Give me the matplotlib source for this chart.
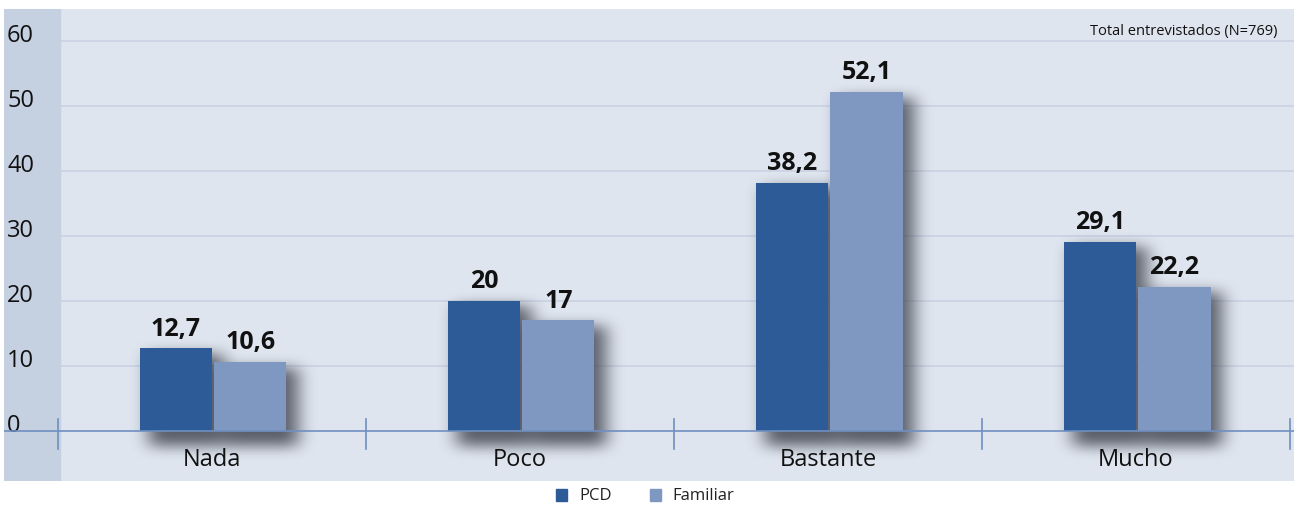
import matplotlib.pyplot as plt
import numpy as np
from matplotlib.patches import Rectangle

# Data
categories = ['Nada', 'Poco', 'Bastante', 'Mucho']
pcd = [12.7, 20, 38.2, 29.1]
familiar = [10.6, 17, 52.1, 22.2]
pcd_labels = ['12,7', '20', '38,2', '29,1']
familiar_labels = ['10,6', '17', '52,1', '22,2']
yticks = [0, 10, 20, 30, 40, 50, 60]

plt.rcParams['font.family'] = ['Open Sans', 'DejaVu Sans']

fig = plt.figure(figsize=(13, 5.06), dpi=100)
AX_W, AX_H = 1290, 472
ax = fig.add_axes([4 / 1300, 24 / 506, AX_W / 1300, AX_H / 506])
ax.set_facecolor('#dfe5ef')

x = np.arange(len(categories))
w = 0.234
x_pcd = x - 0.117
x_fam = x + 0.125
XMIN, XMAX = -0.675, 3.513
YMIN, YMAX = -7.7, 64.9
ax.set_xlim(XMIN, XMAX)
ax.set_ylim(YMIN, YMAX)

# left strip for the y labels
ax.axvspan(XMIN, -0.494, color='#c5d0e1', zorder=0)

# gridlines
for t in yticks[1:]:
    ax.plot([-0.494, XMAX], [t, t], color='#c8d1e2', lw=1.1, zorder=1)

# soft drop shadow: paint bars into a pixel grid, offset and blur
mask = np.zeros((AX_H, AX_W))
def to_px(xd, yd):
    px = (xd - XMIN) / (XMAX - XMIN) * AX_W
    py = (YMAX - yd) / (YMAX - YMIN) * AX_H
    return px, py
for xs, vals in ((x_pcd, pcd), (x_fam, familiar)):
    for xi, v in zip(xs, vals):
        x0, y0 = to_px(xi - w / 2, v)
        x1, y1 = to_px(xi + w / 2, -1.2)
        mask[int(y0) + 6:int(y1) + 8, int(x0) + 10:int(x1) + 12] = 1.0

def blur(a, r, axis):
    k = np.ones(2 * r + 1) / (2 * r + 1)
    return np.apply_along_axis(lambda m: np.convolve(m, k, mode='same'), axis, a)

for _ in range(3):
    mask = blur(mask, 8, 1)
    mask = blur(mask, 6, 0)
shadow = np.zeros((AX_H, AX_W, 4))
shadow[..., :3] = np.array([0.22, 0.24, 0.28])
shadow[..., 3] = mask * 0.8
ax.imshow(shadow, extent=(XMIN, XMAX, YMIN, YMAX), aspect='auto', zorder=2,
          interpolation='bilinear')
ax.set_xlim(XMIN, XMAX)
ax.set_ylim(YMIN, YMAX)

ax.bar(x_pcd, pcd, w, color='#2c5b98', zorder=3)
ax.bar(x_fam, familiar, w, color='#7f98c2', zorder=3)

for xi, v, s in zip(x_pcd, pcd, pcd_labels):
    ax.text(xi, v + 1.2, s, ha='center', va='bottom', fontsize=18,
            fontweight='bold', color='#111111', zorder=4)
for xi, v, s in zip(x_fam, familiar, familiar_labels):
    ax.text(xi, v + 1.2, s, ha='center', va='bottom', fontsize=18,
            fontweight='bold', color='#111111', zorder=4)

# x axis line with separator ticks
ax.axhline(0, color='#6f8fc0', lw=1.2, zorder=4)
for sep in np.arange(-0.5, 4.0, 1.0):
    ax.plot([sep, sep], [1.8, -2.8], color='#6f8fc0', lw=1.2, zorder=4)

for xi, c in zip(x, categories):
    ax.text(xi, -2.5, c, ha='center', va='top', fontsize=17, color='#111111', zorder=4)

# y labels inside strip
for t in yticks:
    ax.text(-0.665, t + 0.9, str(t), ha='left', va='center', fontsize=17, color='#111111')

ax.text(3.458, 61.6, 'Total entrevistados (N=769)', ha='right', va='center',
        fontsize=10.5, color='#111111')

ax.set_xticks([])
ax.set_yticks([])
for s in ax.spines.values():
    s.set_visible(False)

# legend
fig.patches.append(Rectangle((556 / 1300, 4 / 506), 11 / 1300, 12 / 506,
                             transform=fig.transFigure, color='#2c5b98'))
fig.text(579 / 1300, 10 / 506, 'PCD', ha='left', va='center', fontsize=12, color='#222222')
fig.patches.append(Rectangle((650 / 1300, 4 / 506), 11 / 1300, 12 / 506,
                             transform=fig.transFigure, color='#7f98c2'))
fig.text(672 / 1300, 10 / 506, 'Familiar', ha='left', va='center', fontsize=12, color='#222222')

fig.savefig('out.png', dpi=100, facecolor='white')
